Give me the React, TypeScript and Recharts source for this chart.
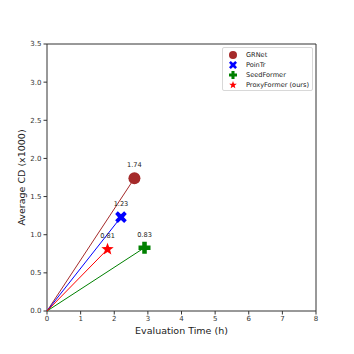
import React from "react";
import {
  ComposedChart,
  Scatter,
  XAxis,
  YAxis,
  ReferenceLine,
  LabelList,
} from "recharts";

const methods = ["GRNet", "PoinTr", "SeedFormer", "ProxyFormer (ours)"];
const evalTimes = [2.6, 2.2, 2.9, 1.8];
const avgCD = [1.74, 1.23, 0.83, 0.81];
const colors = ["#a52a2a", "#0000ff", "#008000", "#ff0000"];
const markers = ["circle", "x", "plus", "star"];
const xTicks = [0, 1, 2, 3, 4, 5, 6, 7, 8];
const yTicks = [0, 0.5, 1, 1.5, 2, 2.5, 3, 3.5];

const FONT = "DejaVu Sans, sans-serif";

function markerPath(kind: string, cx: number, cy: number, r: number) {
  if (kind === "x") {
    const a = r * 0.5;
    const b = r * 0.45;
    const pts = [
      [0, -a], [r - b, -r], [r, -r + b], [a, 0], [r, r - b], [r - b, r],
      [0, a], [-r + b, r], [-r, r - b], [-a, 0], [-r, -r + b], [-r + b, -r],
    ];
    return pts.map((p, i) => `${i ? "L" : "M"}${cx + p[0]},${cy + p[1]}`).join("") + "Z";
  }
  if (kind === "plus") {
    const a = r * 0.38;
    const pts = [
      [-a, -r], [a, -r], [a, -a], [r, -a], [r, a], [a, a],
      [a, r], [-a, r], [-a, a], [-r, a], [-r, -a], [-a, -a],
    ];
    return pts.map((p, i) => `${i ? "L" : "M"}${cx + p[0]},${cy + p[1]}`).join("") + "Z";
  }
  // star
  const pts: string[] = [];
  for (let i = 0; i < 10; i++) {
    const ang = -Math.PI / 2 + (i * Math.PI) / 5;
    const rr = i % 2 === 0 ? r : r * 0.42;
    pts.push(`${i ? "L" : "M"}${cx + rr * Math.cos(ang)},${cy + rr * Math.sin(ang)}`);
  }
  return pts.join("") + "Z";
}

function Marker({ kind, cx, cy, r, color }: { kind: string; cx: number; cy: number; r: number; color: string }) {
  if (kind === "circle") return <circle cx={cx} cy={cy} r={r} fill={color} />;
  return <path d={markerPath(kind, cx, cy, r)} fill={color} />;
}

const sizes = [6, 5.8, 6, 6.5];

const series = methods.map((name, i) => ({
  name,
  data: [
    { x: 0, y: 0 },
    { x: evalTimes[i], y: avgCD[i] },
  ],
}));

function LegendBox() {
  return (
    <div
      style={{
        position: "absolute",
        left: 222,
        top: 47,
        width: 91,
        height: 44,
        border: "1px solid #d8d8d8",
        borderRadius: 2,
        background: "#fff",
        fontFamily: FONT,
        fontSize: 6.6,
        color: "#222",
        boxSizing: "border-box",
        paddingTop: 2,
      }}
    >
      {methods.map((m, i) => (
        <div key={m} style={{ display: "flex", alignItems: "center", height: 10 }}>
          <svg width={20} height={10} style={{ marginLeft: 2 }}>
            <Marker kind={markers[i]} cx={8} cy={5} r={4} color={colors[i]} />
          </svg>
          <span style={{ marginLeft: 1 }}>{m}</span>
        </div>
      ))}
    </div>
  );
}

export default function App() {
  return (
    <div style={{ position: "absolute", left: 0, top: 0, width: 354, height: 354 }}>
      <ComposedChart
        width={354}
        height={354}
        margin={{ top: 44, right: 38, left: 0, bottom: 0 }}
      >
        <XAxis
          type="number"
          dataKey="x"
          domain={[0, 8]}
          ticks={xTicks}
          height={43}
          stroke="#333"
          tickSize={3.5}
          tick={{ fontSize: 7, fontFamily: FONT, fill: "#333" }}
          label={{
            value: "Evaluation Time (h)",
            position: "insideBottom",
            offset: 20,
            style: { fontSize: 9.5, fontFamily: FONT, fill: "#222" },
          }}
        />
        <YAxis
          type="number"
          dataKey="y"
          domain={[0, 3.5]}
          ticks={yTicks}
          width={47}
          stroke="#333"
          tickSize={3.5}
          tickFormatter={(v: number) => v.toFixed(1)}
          tick={{ fontSize: 7, fontFamily: FONT, fill: "#333" }}
          label={{
            value: "Average CD (x1000)",
            angle: -90,
            position: "insideLeft",
            offset: 22,
            style: { fontSize: 9.5, fontFamily: FONT, fill: "#222", textAnchor: "middle" },
          }}
        />
        <ReferenceLine y={3.5} stroke="#333" />
        <ReferenceLine x={8} stroke="#333" />
        {series.map((s, i) => (
          <Scatter
            key={s.name}
            name={s.name}
            data={s.data}
            isAnimationActive={false}
            line={{ stroke: colors[i], strokeWidth: 1 }}
            lineType="joint"
            shape={(p: any) =>
              p.payload && p.payload.x === 0 ? (
                <g />
              ) : (
                <Marker kind={markers[i]} cx={p.cx} cy={p.cy} r={sizes[i]} color={colors[i]} />
              )
            }
          >
            <LabelList
              dataKey="y"
              content={(lp: any) =>
                lp.value === 0 ? null : (
                  <text
                    x={lp.x + (lp.width || 0) / 2}
                    y={lp.y + (lp.height || 0) / 2 - 11}
                    textAnchor="middle"
                    fontSize={6.6}
                    fontFamily={FONT}
                    fill="#222"
                  >
                    {Number(lp.value).toFixed(2)}
                  </text>
                )
              }
            />
          </Scatter>
        ))}
      </ComposedChart>
      <LegendBox />
    </div>
  );
}
